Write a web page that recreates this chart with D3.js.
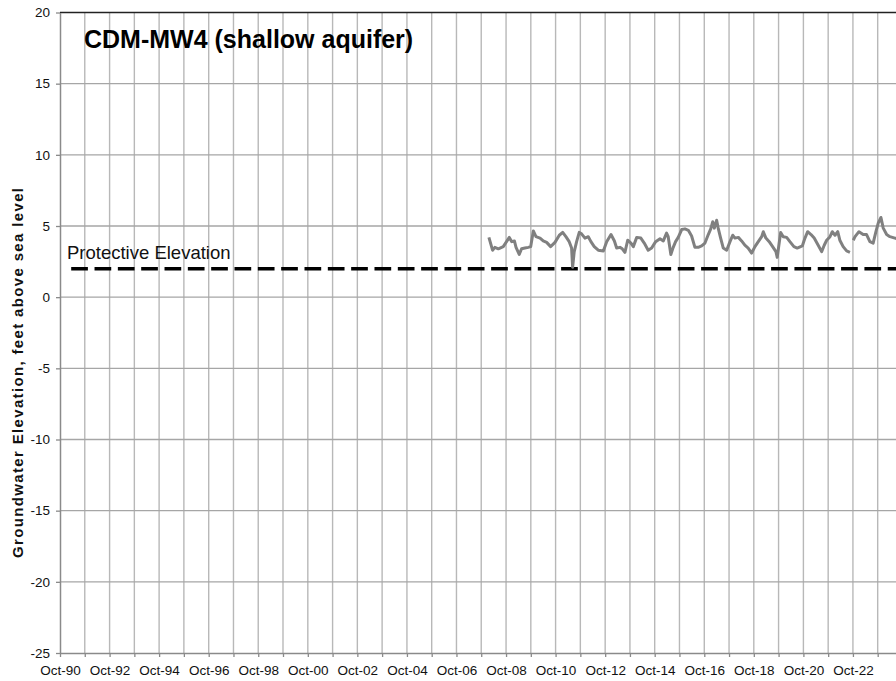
<!DOCTYPE html>
<html>
<head>
<meta charset="utf-8">
<script src="https://cdn.jsdelivr.net/npm/d3@7"></script>
<style>
  html, body { margin: 0; padding: 0; background: #fff; }
  svg { display: block; font-family: "Liberation Sans", Arial, sans-serif; }
</style>
</head>
<body>
<svg id="chart" width="896" height="681"></svg>
<script>
// Monitoring well CDM-MW4, groundwater elevation (ft above sea level)
const obsDates = [
  "2008-01-22","2008-03-16","2008-04-19","2008-06-09","2008-08-21","2008-11-18","2008-12-24",
  "2009-02-01","2009-02-25","2009-04-13","2009-05-18","2009-07-06","2009-08-24","2009-09-29",
  "2009-11-07","2009-12-16","2010-02-14","2010-04-02","2010-05-22","2010-07-20","2010-09-22",
  "2010-11-25","2011-01-14","2011-03-02","2011-04-20","2011-05-25","2011-06-09","2011-07-03",
  "2011-08-07","2011-09-15","2011-10-19","2011-12-08","2012-01-26","2012-03-05","2012-04-23",
  "2012-06-21","2012-09-04","2012-10-23","2012-12-26","2013-02-14","2013-03-19","2013-05-07",
  "2013-06-10","2013-07-19","2013-08-29","2013-10-16","2013-11-20","2014-01-09","2014-03-11",
  "2014-04-30","2014-06-27","2014-08-17","2014-10-15","2014-12-18","2015-02-05","2015-03-25",
  "2015-04-18","2015-05-27","2015-07-01","2015-08-05","2015-09-13","2015-11-03","2015-12-21",
  "2016-02-09","2016-03-28","2016-05-16","2016-07-04","2016-08-23","2016-10-11","2016-11-29",
  "2017-01-04","2017-02-03","2017-02-26","2017-04-01","2017-04-24","2017-05-30","2017-07-08",
  "2017-08-27","2017-10-15","2017-11-24","2017-12-27","2018-02-15","2018-04-04","2018-05-22",
  "2018-07-10","2018-08-30","2018-10-18","2018-12-06","2019-01-25","2019-02-18","2019-03-28",
  "2019-05-16","2019-07-05","2019-08-23","2019-09-11","2019-10-10","2019-11-01","2019-12-09",
  "2020-01-28","2020-03-16","2020-05-14","2020-07-02","2020-09-15","2020-10-24","2020-12-03",
  "2021-01-21","2021-03-09","2021-05-07","2021-06-27","2021-08-04","2021-09-09","2021-10-28",
  "2021-12-01","2022-01-10","2022-02-19","2022-03-22","2022-05-10","2022-06-30","2022-08-18",
  "2022-09-12",
  "2022-10-06","2022-11-01","2022-12-29","2023-03-01","2023-04-20","2023-06-08","2023-07-26",
  "2023-09-05","2023-10-09","2023-11-18","2023-12-22","2024-02-10","2024-03-29","2024-06-11",
  "2024-07-20"
];
const obsElevation = [
  4.2, 3.3, 3.5, 3.4, 3.55, 4.2, 3.9,
  3.95, 3.5, 3.0, 3.4, 3.45, 3.5, 3.55,
  4.65, 4.25, 4.15, 3.95, 3.85, 3.55, 3.85,
  4.35, 4.55, 4.25, 3.9, 3.45, 2.1, 3.2,
  3.9, 4.55, 4.45, 4.15, 4.25, 3.9, 3.55,
  3.3, 3.25, 3.9, 4.4, 3.95, 3.45, 3.5,
  3.4, 3.15, 4.0, 3.8, 3.55, 4.2, 4.15,
  3.8, 3.3, 3.45, 3.9, 4.1, 3.95, 4.5,
  4.25, 3.0, 3.5, 3.9, 4.2, 4.75, 4.8,
  4.7, 4.3, 3.5, 3.5, 3.6, 3.8, 4.4,
  4.8, 5.3, 4.85, 5.4, 4.85, 4.15, 3.45,
  3.3, 3.9, 4.35, 4.15, 4.2, 3.95, 3.65,
  3.45, 3.1, 3.55, 3.9, 4.25, 4.6, 4.15,
  3.9, 3.55, 3.2, 2.8, 3.8, 4.55, 4.25,
  4.2, 3.9, 3.55, 3.45, 3.6, 4.15, 4.6,
  4.4, 4.15, 3.65, 3.2, 3.65, 4.0, 4.25,
  4.6, 4.35, 4.6, 4.0, 3.55, 3.25, 3.15,
  null,
  4.0, 4.25, 4.6, 4.4, 4.4, 3.9, 3.8,
  4.6, 5.2, 5.6, 4.85, 4.4, 4.25, 4.15,
  4.1
];

// Protective elevation reference line
const protectiveDates = ["1991-03-15", "2024-10-01"];
const protectiveValue = 2;

// Axis settings
const yTicks = [-25, -20, -15, -10, -5, 0, 5, 10, 15, 20];
const xStartYear = 1990;
const xEndYear = 2024;
const lastLabelYear = 2022;

const parse = d3.timeParse("%Y-%m-%d");
const svg = d3.select("#chart");

const margin = { left: 60, top: 12.5, bottom: 653 };
const x = d3.scaleTime()
  .domain([new Date(xStartYear, 9, 1), new Date(xEndYear, 9, 1)])
  .range([margin.left, margin.left + 24.78 * (xEndYear - xStartYear)]);
const y = d3.scaleLinear().domain([-25, 20]).range([margin.bottom, margin.top]);

const yearTicks = d3.range(xStartYear, xEndYear).map(yr => new Date(yr, 9, 1));
const fmt = d3.timeFormat("Oct-%y");

// Vertical gridlines (one per year)
svg.append("g")
  .selectAll("line")
  .data(yearTicks.slice(1))
  .join("line")
  .attr("x1", d => x(d)).attr("x2", d => x(d))
  .attr("y1", y(20)).attr("y2", y(-25))
  .attr("stroke", "#b8b8b8").attr("stroke-width", 1.4);

// Horizontal gridlines
svg.append("g")
  .selectAll("line")
  .data(yTicks.filter(v => v > -25 && v < 20))
  .join("line")
  .attr("x1", margin.left).attr("x2", 896)
  .attr("y1", d => y(d)).attr("y2", d => y(d))
  .attr("stroke", "#a6a6a6").attr("stroke-width", 1.4);

// Top border of the plot area
svg.append("line")
  .attr("x1", margin.left).attr("x2", 896)
  .attr("y1", y(20)).attr("y2", y(20))
  .attr("stroke", "#222").attr("stroke-width", 1.5);

// Y axis
const yAxis = svg.append("g")
  .attr("transform", `translate(${margin.left},0)`)
  .call(d3.axisLeft(y).tickValues(yTicks).tickSize(4).tickPadding(6).tickSizeOuter(0)
    .tickFormat(d => String(d)));
yAxis.select(".domain").attr("stroke", "#8a8a8a").attr("stroke-width", 1.5);
yAxis.selectAll(".tick line").attr("stroke", "#8a8a8a").attr("stroke-width", 1.3);
yAxis.selectAll(".tick text")
  .attr("font-size", 13.5).attr("fill", "#111")
  .attr("font-family", "'Liberation Sans', Arial, sans-serif");

// X axis
const xAxis = svg.append("g")
  .attr("transform", `translate(0,${margin.bottom})`)
  .call(d3.axisBottom(x).tickValues(yearTicks).tickSize(4).tickPadding(8).tickSizeOuter(0)
    .tickFormat(d => {
      const yr = d.getFullYear();
      return (yr % 2 === 0 && yr <= lastLabelYear) ? fmt(d) : "";
    }));
xAxis.select(".domain").attr("stroke", "#8a8a8a").attr("stroke-width", 1.5);
xAxis.selectAll(".tick line").attr("stroke", "#8a8a8a").attr("stroke-width", 1.3);
xAxis.selectAll(".tick text")
  .attr("font-size", 13.5).attr("fill", "#111")
  .attr("font-family", "'Liberation Sans', Arial, sans-serif");

// Protective elevation dashed line
svg.append("path")
  .datum(protectiveDates.map(d => ({ date: parse(d), value: protectiveValue })))
  .attr("d", d3.line().x(d => x(d.date)).y(d => y(d.value)))
  .attr("fill", "none")
  .attr("stroke", "#000")
  .attr("stroke-width", 3.5)
  .attr("stroke-dasharray", "16.7,6.63");

svg.append("text")
  .attr("x", 67).attr("y", 258.5)
  .attr("font-size", 18.5).attr("fill", "#111")
  .text("Protective Elevation");

// Groundwater elevation series
const series = obsDates.map((d, i) => ({ date: parse(d), value: obsElevation[i] }));
svg.append("path")
  .datum(series)
  .attr("d", d3.line()
    .defined(d => d.value !== null)
    .x(d => x(d.date)).y(d => y(d.value)))
  .attr("fill", "none")
  .attr("stroke", "#808080")
  .attr("stroke-width", 3)
  .attr("stroke-linejoin", "round");

// Chart title
svg.append("text")
  .attr("x", 84).attr("y", 47.5)
  .attr("font-size", 25).attr("font-weight", "bold").attr("fill", "#000")
  .text("CDM-MW4 (shallow aquifer)");

// Y axis title
svg.append("text")
  .attr("transform", "translate(23,373) rotate(-90)")
  .attr("text-anchor", "middle")
  .attr("font-size", 15).attr("font-weight", "bold").attr("fill", "#111")
  .attr("textLength", 370).attr("lengthAdjust", "spacing")
  .text("Groundwater Elevation, feet above sea level");
</script>
</body>
</html>
